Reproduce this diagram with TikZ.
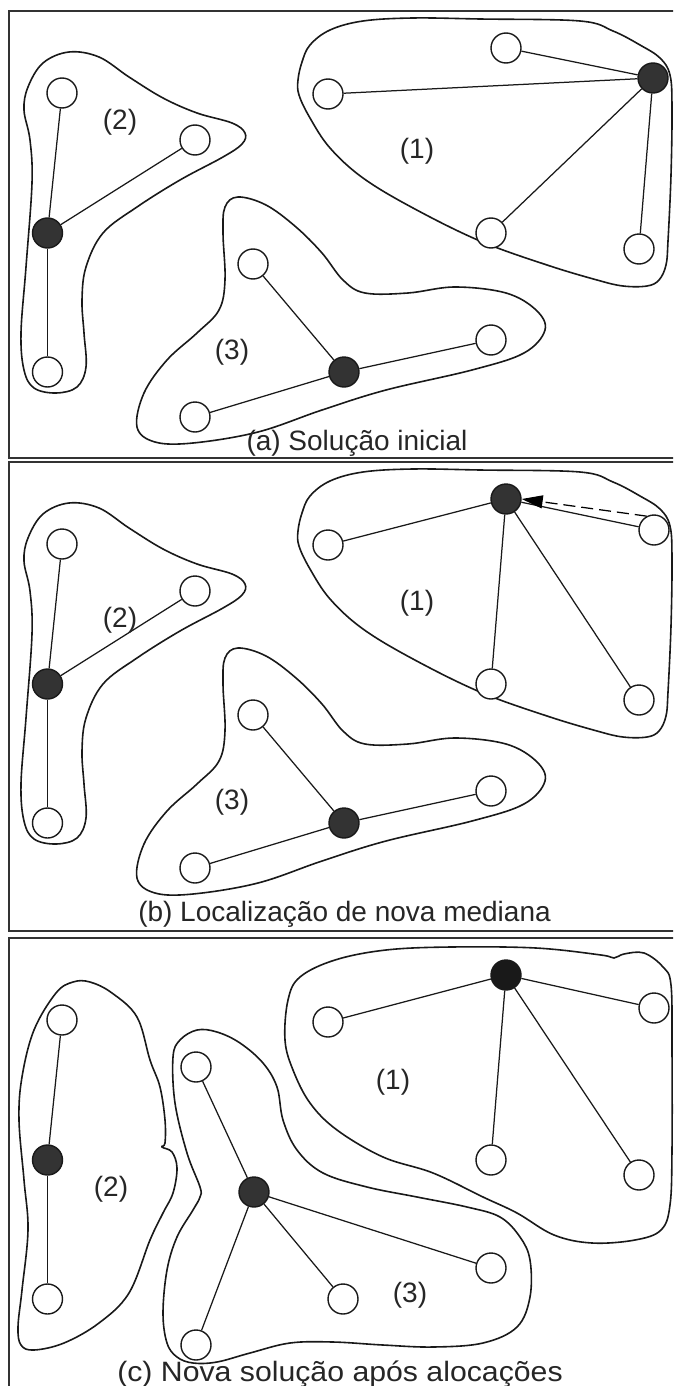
\documentclass[tikz,border=0pt]{standalone}
\usepackage{fontspec}
\setmainfont{Liberation Sans}
\usetikzlibrary{arrows.meta}
\tikzset{
  vtx/.style={circle, draw=black!90, line width=1.4pt, minimum size=30pt, inner sep=0pt, fill=white},
  med/.style={vtx, fill=black!80},
  edge/.style={line width=1.25pt, black!90},
  hull/.style={line width=1.6pt, draw=black!90},
  lbl/.style={font=\fontsize{28}{32}\selectfont, inner sep=0pt, text=black!85},
  captxt/.style={font=\fontsize{28}{32}\selectfont, inner sep=0pt, anchor=base, text=black!85},
  panel/.style={draw=black!80, line width=2pt},
  move/.style={dashed, dash pattern=on 12pt off 6pt, line width=1.25pt, -{Triangle[length=21pt, width=13pt]}},
}
\newcommand\hullOne{plot[smooth cycle, tension=0.6] coordinates {(298,80) (302,62) (310,45) (330,30) (363,21) (413,18) (480,19) (580,21) (613,31) (640,45) (660,58) (670,75) (672,108) (671,175) (668,241) (666,265) (659,280) (647,286) (623,286) (597,280) (547,265) (480,241) (413,208) (363,178) (330,148) (310,118) (299,95)}}
\newcommand\hullTwo{plot[smooth cycle, tension=0.6] coordinates {(69,52) (99,57) (129,77) (163,98) (197,113) (232,123) (245,133) (242,144) (223,157) (180,180) (137,207) (103,233) (86,267) (82,300) (84,333) (86,367) (77,387) (56,393) (34,388) (24,370) (21,333) (26,267) (32,183) (30,140) (24,110) (28,87) (43,63)}}
\newcommand\hullThree{plot[smooth cycle, tension=0.6] coordinates {(238,197) (266,205) (296,227) (322,253) (343,280) (365,293) (408,293) (455,287) (506,293) (536,310) (545,330) (524,353) (472,370) (386,390) (322,410) (258,432) (193,443) (155,442) (137,427) (144,393) (167,360) (197,333) (219,310) (225,280) (223,233) (225,207)}}
\begin{document}
\begin{tikzpicture}[x=1pt, y=-1pt]
\useasboundingbox (0,0) rectangle (673,1386);
\clip (0,0) rectangle (673,1386);
% panels
\draw[panel] (9,11) rectangle (700,458);
\draw[panel] (9,462) rectangle (700,931);
\draw[panel] (9,938) rectangle (700,1420);

% ===== panel (a)
\draw[hull] \hullOne;
\draw[hull] \hullTwo;
\draw[hull] \hullThree;
\node[med] (a1f) at (653,78) {};
\node[vtx] (a1t) at (506,48) {};
\node[vtx] (a1l) at (328,94) {};
\node[vtx] (a1b) at (491,233) {};
\node[vtx] (a1r) at (639,249) {};
\node[vtx] (a2t) at (62,93) {};
\node[vtx] (a2r) at (195,140) {};
\node[med] (a2f) at (47.5,233) {};
\node[vtx] (a2b) at (47.5,372) {};
\node[vtx] (a3t) at (253,264) {};
\node[med] (a3f) at (344,372) {};
\node[vtx] (a3r) at (491,340) {};
\node[vtx] (a3l) at (195,417) {};
\draw[edge] (a1f) -- (a1t);
\draw[edge] (a1f) -- (a1l);
\draw[edge] (a1f) -- (a1b);
\draw[edge] (a1f) -- (a1r);
\draw[edge] (a2f) -- (a2t);
\draw[edge] (a2f) -- (a2r);
\draw[edge] (a2f) -- (a2b);
\draw[edge] (a3f) -- (a3t);
\draw[edge] (a3f) -- (a3r);
\draw[edge] (a3f) -- (a3l);
\node[lbl] (a1n) at (417,151) {(1)};
\node[lbl] (a2n) at (120,122) {(2)};
\node[lbl] (a3n) at (232,352) {(3)};
\node[captxt] (acap) at (357,450) {(a) Solução inicial};

% ===== panel (b)
\begin{scope}[yshift=-451pt]
\draw[hull] \hullOne;
\draw[hull] \hullTwo;
\draw[hull] \hullThree;
\end{scope}
\node[med] (b1f) at (506,499) {};
\node[vtx] (b1l) at (328,545) {};
\node[vtx] (b1r) at (654,530) {};
\node[vtx] (b1b) at (491,684) {};
\node[vtx] (b1s) at (639,700) {};
\node[vtx] (b2t) at (62,544) {};
\node[vtx] (b2r) at (195,591) {};
\node[med] (b2f) at (47.5,684) {};
\node[vtx] (b2b) at (47.5,823) {};
\node[vtx] (b3t) at (253,715) {};
\node[med] (b3f) at (344,823) {};
\node[vtx] (b3r) at (491,791) {};
\node[vtx] (b3l) at (195,868) {};
\draw[edge] (b1f) -- (b1l);
\draw[edge] (b1f) -- (b1r);
\draw[edge] (b1f) -- (b1b);
\draw[edge] (b1f) -- (b1s);
\draw[move] (b1r.118) -- (b1f.east);
\draw[edge] (b2f) -- (b2t);
\draw[edge] (b2f) -- (b2r);
\draw[edge] (b2f) -- (b2b);
\draw[edge] (b3f) -- (b3t);
\draw[edge] (b3f) -- (b3r);
\draw[edge] (b3f) -- (b3l);
\node[lbl] (b1n) at (417,603) {(1)};
\node[lbl] (b2n) at (120,620) {(2)};
\node[lbl] (b3n) at (232,802) {(3)};
\node[captxt] (bcap) at (344.5,921.7) {(b) Localização de nova mediana};

% ===== panel (c)
\draw[hull] plot[smooth cycle, tension=0.6] coordinates {(288,1000) (300,977) (335,960) (386,950) (451,947) (536,948) (601,955) (614,958) (624,954) (644,953) (663,967) (671,985) (672,1050) (672,1150) (670,1205) (661,1230) (635,1240) (592,1243) (554,1235) (517,1213) (483,1197) (433,1173) (383,1157) (337,1130) (310,1103) (293,1070) (285,1040)};
\draw[hull] plot[smooth cycle, tension=0.6] coordinates {(73,982) (90,982) (112,993) (137,1017) (150,1060) (160,1087) (165,1120) (165,1143) (162,1147) (172,1152) (177,1168) (173,1193) (163,1213) (150,1240) (129,1293) (99,1323) (64,1343) (34,1350) (21,1345) (18,1327) (22,1290) (28,1230) (24,1180) (19,1120) (22,1077) (34,1030) (56,993)};
\draw[hull] plot[smooth cycle, tension=0.6] coordinates {(197,1030) (217,1032) (240,1043) (263,1063) (277,1087) (283,1120) (297,1150) (323,1173) (367,1187) (417,1197) (467,1207) (500,1217) (520,1237) (530,1260) (530,1297) (517,1327) (483,1343) (433,1347) (383,1345) (333,1342) (290,1343) (250,1353) (217,1362) (193,1363) (177,1357) (167,1343) (163,1313) (167,1270) (177,1237) (193,1210) (200,1197) (200,1187) (187,1153) (175,1103) (173,1057) (180,1040)};
\node[med, fill=black!90] (c1f) at (506,975) {};
\node[vtx] (c1l) at (328,1022) {};
\node[vtx] (c1r) at (654,1008) {};
\node[vtx] (c1b) at (491,1160) {};
\node[vtx] (c1s) at (639,1175) {};
\node[vtx] (c2t) at (62,1020) {};
\node[med] (c2f) at (47.5,1160) {};
\node[vtx] (c2b) at (47.5,1299) {};
\node[vtx] (c3t) at (196,1067) {};
\node[med] (c3f) at (254,1192) {};
\node[vtx] (c3m) at (343,1299) {};
\node[vtx] (c3r) at (491,1268) {};
\node[vtx] (c3l) at (196,1345) {};
\draw[edge] (c1f) -- (c1l);
\draw[edge] (c1f) -- (c1r);
\draw[edge] (c1f) -- (c1b);
\draw[edge] (c1f) -- (c1s);
\draw[edge] (c2f) -- (c2t);
\draw[edge] (c2f) -- (c2b);
\draw[edge] (c3f) -- (c3t);
\draw[edge] (c3f) -- (c3m);
\draw[edge] (c3f) -- (c3r);
\draw[edge] (c3f) -- (c3l);
\node[lbl] (c1n) at (393,1082) {(1)};
\node[lbl] (c2n) at (111,1189) {(2)};
\node[lbl] (c3n) at (410,1295) {(3)};
\node[captxt, xscale=1.08] (ccap) at (340,1381) {(c) Nova solução após alocações};
\end{tikzpicture}
\end{document}
